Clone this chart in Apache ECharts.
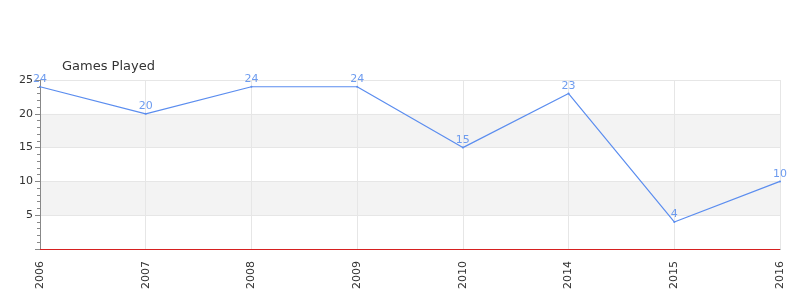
<!DOCTYPE html>
<html><head><meta charset="utf-8">
<script src="https://cdn.jsdelivr.net/npm/echarts@6/dist/echarts.min.js"></script>
<style>html,body{margin:0;padding:0;background:#fff}#c{width:800px;height:300px}</style>
</head><body><div id="c"></div>
<script>
const categories = ['2006','2007','2008','2009','2010','2014','2015','2016'];
const gamesPlayed = [24, 20, 24, 24, 15, 23, 4, 10];
const titleText = 'Games Played';

const chart = echarts.init(document.getElementById('c'), null, {renderer:'canvas'});
chart.setOption({
  animation: false,
  backgroundColor: '#fff',
  title: {
    text: titleText, left: 57, top: 55,
    textStyle: {fontFamily: 'DejaVu Sans', fontSize: 13, fontWeight: 'normal', color: '#333'}
  },
  grid: {left: 40, right: 20, top: 80, bottom: 51, containLabel: false},
  xAxis: {
    type: 'category', data: categories, boundaryGap: false, offset: 1,
    axisLine: {show: true, lineStyle: {color: '#555', width: 1}},
    axisTick: {show: false},
    axisLabel: {rotate: 90, color: '#333', fontFamily: 'DejaVu Sans', fontSize: 11, margin: 11},
    splitLine: {show: true, lineStyle: {color: '#e6e6e6'}}
  },
  yAxis: {
    type: 'value', min: 0, max: 25, interval: 5,
    axisLine: {show: true, lineStyle: {color: '#888'}},
    axisTick: {show: true, length: 5, lineStyle: {color: '#888'}},
    minorTick: {show: true, splitNumber: 5, length: 3, lineStyle: {color: '#888'}},
    axisLabel: {color: '#333', fontFamily: 'DejaVu Sans', fontSize: 11, margin: 7,
      formatter: v => v === 0 ? '' : String(v)},
    splitLine: {show: true, lineStyle: {color: '#e6e6e6'}},
    splitArea: {show: true, areaStyle: {color: ['#ffffff', '#f3f3f3']}}
  },
  series: [{
    type: 'line', data: gamesPlayed,
    symbol: 'circle', symbolSize: 2, showSymbol: true,
    lineStyle: {color: '#5b8def', width: 1.2},
    itemStyle: {color: '#5b8def'},
    label: {show: true, position: 'top', distance: 1, color: '#6e9cef', fontFamily: 'DejaVu Sans', fontSize: 11},
    markLine: {
      silent: true, symbol: 'none', label: {show: false},
      lineStyle: {color: '#d62020', type: 'solid', width: 1},
      data: [{yAxis: 0}]
    }
  }]
});
</script></body></html>
